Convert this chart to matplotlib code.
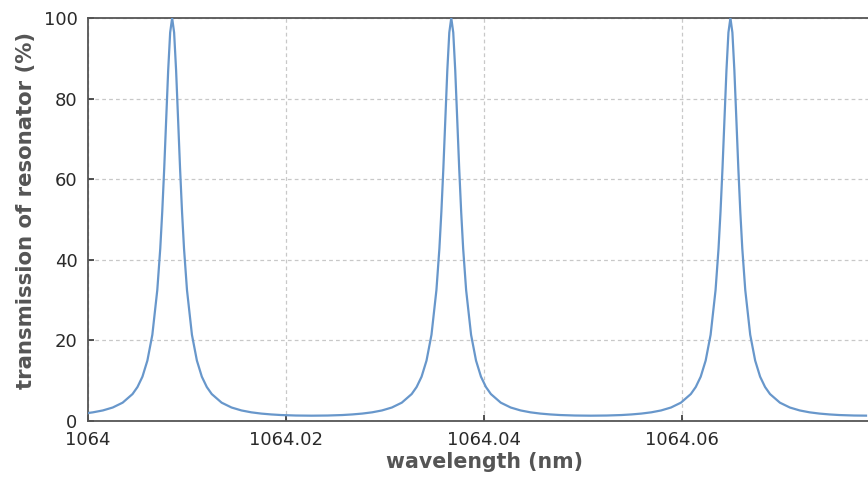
import matplotlib
matplotlib.use("Agg")
import matplotlib.pyplot as plt
from matplotlib.ticker import FixedLocator

# Read-off points of the transmission curve (wavelength in nm, transmission in %)
wl_peak1 = [1064.0000, 1064.0005, 1064.0015, 1064.0025, 1064.0035, 1064.0045, 1064.0050,
            1064.0055, 1064.0060, 1064.0065, 1064.0070, 1064.0073, 1064.0075, 1064.0077,
            1064.0079, 1064.0081, 1064.0083, 1064.0085, 1064.0087, 1064.0089, 1064.0091,
            1064.0093, 1064.0095, 1064.0097, 1064.0100, 1064.0105, 1064.0110, 1064.0115,
            1064.0120, 1064.0125, 1064.0135, 1064.0145, 1064.0155, 1064.0165, 1064.0175,
            1064.0185, 1064.0195, 1064.0210, 1064.0226]
tr_peak1 = [1.98, 2.15, 2.62, 3.35, 4.55, 6.69, 8.44,
            11.0, 15.0, 21.4, 32.5, 42.8, 51.9, 62.7,
            74.9, 87.0, 96.4, 100.0, 96.4, 87.0, 74.9,
            62.7, 51.9, 42.8, 32.5, 21.4, 15.0, 11.0,
            8.44, 6.69, 4.55, 3.35, 2.62, 2.15, 1.84,
            1.63, 1.48, 1.36, 1.32]

wl_peak2 = [1064.0242, 1064.0257, 1064.0267, 1064.0277, 1064.0287, 1064.0297, 1064.0307,
            1064.0317, 1064.0327, 1064.0332, 1064.0337, 1064.0342, 1064.0347, 1064.0352,
            1064.0355, 1064.0357, 1064.0359, 1064.0361, 1064.0363, 1064.0365, 1064.0367,
            1064.0369, 1064.0371, 1064.0373, 1064.0375, 1064.0377, 1064.0379, 1064.0382,
            1064.0387, 1064.0392, 1064.0397, 1064.0402, 1064.0407, 1064.0417, 1064.0427,
            1064.0437, 1064.0447, 1064.0457, 1064.0467, 1064.0477, 1064.0492, 1064.0508]
tr_peak2 = [1.36, 1.48, 1.63, 1.84, 2.15, 2.62, 3.35,
            4.55, 6.69, 8.44, 11.0, 15.0, 21.4, 32.5,
            42.8, 51.9, 62.7, 74.9, 87.0, 96.4, 100.0,
            96.4, 87.0, 74.9, 62.7, 51.9, 42.8, 32.5,
            21.4, 15.0, 11.0, 8.44, 6.69, 4.55, 3.35,
            2.62, 2.15, 1.84, 1.63, 1.48, 1.36, 1.32]

wl_peak3 = [1064.0524, 1064.0539, 1064.0549, 1064.0559, 1064.0569, 1064.0579, 1064.0589,
            1064.0599, 1064.0609, 1064.0614, 1064.0619, 1064.0624, 1064.0629, 1064.0634,
            1064.0637, 1064.0639, 1064.0641, 1064.0643, 1064.0645, 1064.0647, 1064.0649,
            1064.0651, 1064.0653, 1064.0655, 1064.0657, 1064.0659, 1064.0661, 1064.0664,
            1064.0669, 1064.0674, 1064.0679, 1064.0684, 1064.0689, 1064.0699, 1064.0709,
            1064.0719, 1064.0729, 1064.0739, 1064.0749, 1064.0759, 1064.0774, 1064.0786]
tr_peak3 = [1.36, 1.48, 1.63, 1.84, 2.15, 2.62, 3.35,
            4.55, 6.69, 8.44, 11.0, 15.0, 21.4, 32.5,
            42.8, 51.9, 62.7, 74.9, 87.0, 96.4, 100.0,
            96.4, 87.0, 74.9, 62.7, 51.9, 42.8, 32.5,
            21.4, 15.0, 11.0, 8.44, 6.69, 4.55, 3.35,
            2.62, 2.15, 1.84, 1.63, 1.48, 1.36, 1.33]

x_ticks = [1064.0, 1064.02, 1064.04, 1064.06]
x_tick_labels = ["1064", "1064.02", "1064.04", "1064.06"]
y_ticks = [0, 20, 40, 60, 80, 100]
y_tick_labels = ["0", "20", "40", "60", "80", "100"]

wl = wl_peak1 + wl_peak2 + wl_peak3
tr = tr_peak1 + tr_peak2 + tr_peak3

plt.rcParams['font.family'] = ['DejaVu Sans']

W, H = 868, 479
fig = plt.figure(figsize=(W / 100, H / 100), dpi=100)
ax = fig.add_axes([88 / W, 1 - 421 / H, 780 / W, (421 - 18) / H])

ax.plot(wl, tr, color="#6897cb", lw=1.6, solid_joinstyle="round", zorder=3)

ax.set_xlim(1064.0, 1064.0788)
ax.set_ylim(0, 100)
ax.xaxis.set_major_locator(FixedLocator(x_ticks))
ax.yaxis.set_major_locator(FixedLocator(y_ticks))
ax.set_xticklabels(x_tick_labels)
ax.set_yticklabels(y_tick_labels)

ax.grid(True, color="#c8c8c8", linestyle=(0, (3, 2.5)), linewidth=0.9, zorder=0)

for side in ("left", "bottom", "top"):
    ax.spines[side].set_color("#555555")
    ax.spines[side].set_linewidth(1.3)
ax.spines["right"].set_visible(False)

ax.tick_params(direction="in", length=4, width=1.2, color="#333333",
               labelsize=13, labelcolor="#2a2a2a")
ax.tick_params(axis="y", pad=7.5)
ax.tick_params(axis="x", pad=7.5)

fig.text(484 / W, 1 - 462 / H, "wavelength (nm)", fontsize=14.8, fontweight="bold",
         color="#555555", ha="center", va="center")
fig.text(26 / W, 1 - 210 / H, "transmission of resonator (%)", fontsize=15.3,
         fontweight="bold", color="#555555", ha="center", va="center", rotation=90)

fig.savefig("out.png", dpi=100)
